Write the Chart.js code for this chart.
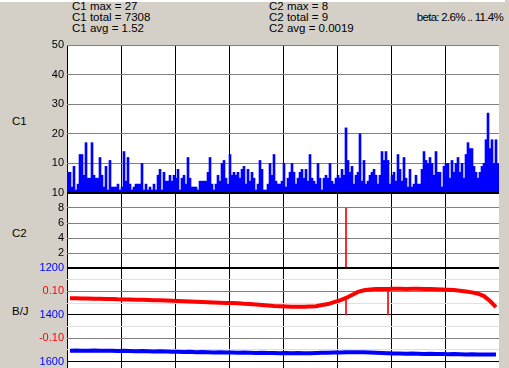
<!DOCTYPE html>
<html>
<head>
<meta charset="utf-8">
<script src="https://cdn.jsdelivr.net/npm/chart.js@4.4.1/dist/chart.umd.min.js"></script>
<style>
body { margin: 0; width: 509px; height: 368px; overflow: hidden; background: #d4d0c8; position: relative; font-family: "Liberation Sans", Arial, sans-serif; }
canvas { position: absolute; left: 0; }
.txt { position: absolute; font-size: 11.5px; line-height: 12px; color: #000; white-space: nowrap; }
</style>
</head>
<body>
<div style="position:absolute;left:0;top:0;width:505px;height:2px;background:#fff"></div>
<div class="txt" style="left:72px;top:0px">C1 max = 27</div>
<div class="txt" style="left:72px;top:11px">C1 total = 7308</div>
<div class="txt" style="left:72px;top:22px">C1 avg = 1.52</div>
<div class="txt" style="left:269px;top:0px">C2 max = 8</div>
<div class="txt" style="left:269px;top:11px">C2 total = 9</div>
<div class="txt" style="left:269px;top:22px">C2 avg = 0.0019</div>
<div class="txt" style="right:6px;top:11px;letter-spacing:-0.7px">beta: 2.6% .. 11.4%</div>
<div class="txt" style="left:12px;top:115px">C1</div>
<div class="txt" style="left:12px;top:227px">C2</div>
<div class="txt" style="left:12px;top:305px">B/J</div>

<canvas id="graficoC1" width="509" height="160" style="top:36px"></canvas>
<canvas id="graficoC2" width="509" height="85" style="top:186px"></canvas>
<canvas id="graficoBJ" width="509" height="110" style="top:261px"></canvas>

<script>
// C1: one value per bin (216 bins, 27 per grid division)
const c1Values = [
    7, 7, 2, 9, 1, 3, 13, 13, 6, 17, 5, 5, 17, 6, 5, 5, 12, 6, 2, 9, 1, 11, 2, 2, 2, 3, 1,
    2, 14, 4, 12, 3, 1, 2, 3, 3, 3, 10, 1, 3, 1, 2, 1, 3, 1, 6, 8, 1, 7, 4, 4, 6, 4, 6,
    5, 8, 1, 5, 6, 3, 12, 5, 2, 2, 2, 1, 4, 4, 4, 4, 7, 12, 3, 1, 3, 6, 4, 10, 11, 5, 3,
    13, 6, 7, 6, 7, 5, 8, 9, 3, 8, 4, 7, 5, 1, 3, 11, 8, 1, 1, 3, 10, 6, 13, 4, 3, 3, 4,
    10, 2, 5, 7, 10, 7, 3, 5, 7, 8, 5, 8, 4, 13, 5, 4, 3, 10, 5, 1, 5, 6, 5, 10, 4, 3, 5,
    6, 5, 8, 6, 22, 11, 7, 9, 3, 6, 7, 20, 4, 11, 3, 4, 6, 7, 8, 6, 3, 6, 14, 11, 14, 11, 3,
    6, 7, 4, 13, 8, 4, 12, 5, 2, 8, 2, 3, 6, 3, 3, 8, 14, 11, 10, 12, 10, 6, 14, 7, 7, 2, 9,
    10, 10, 5, 11, 7, 10, 12, 7, 10, 5, 13, 17, 15, 15, 9, 7, 5, 7, 9, 10, 18, 27, 15, 18, 10, 18, 10
];

// C2: only non-empty bins
const c2Bins = [139];
const c2Values = [8];

// B/J: 72 samples, one every 3 bins
const razaoValues = [
    0.071, 0.071, 0.070, 0.070, 0.069, 0.069, 0.068, 0.068, 0.066,
    0.065, 0.065, 0.064, 0.064, 0.063, 0.062, 0.062, 0.061, 0.060,
    0.059, 0.058, 0.057, 0.056, 0.055, 0.054, 0.053, 0.052, 0.051,
    0.050, 0.049, 0.047, 0.046, 0.044, 0.042, 0.040, 0.038, 0.037,
    0.036, 0.035, 0.035, 0.035, 0.036, 0.037, 0.042, 0.046, 0.054,
    0.062, 0.072, 0.085, 0.098, 0.105, 0.108, 0.110, 0.110, 0.110,
    0.111, 0.111, 0.110, 0.111, 0.111, 0.110, 0.110, 0.109, 0.108,
    0.107, 0.106, 0.103, 0.100, 0.096, 0.090, 0.080, 0.059, 0.033
];
const bjValues = [
    1553, 1552, 1554, 1553, 1552, 1554, 1553, 1553, 1555,
    1554, 1555, 1556, 1555, 1556, 1557, 1556, 1557, 1558,
    1558, 1559, 1558, 1560, 1559, 1560, 1561, 1560, 1561,
    1561, 1562, 1561, 1562, 1563, 1562, 1563, 1563, 1564,
    1563, 1564, 1563, 1564, 1564, 1563, 1562, 1562, 1561,
    1561, 1560, 1560, 1560, 1560, 1561, 1562, 1563, 1564,
    1565, 1565, 1566, 1565, 1566, 1567, 1566, 1567, 1567,
    1568, 1567, 1568, 1569, 1568, 1569, 1570, 1569, 1570
];
const marcaBins = [139, 160];
const marcaValues = [0.07, 0.10];

const bjTicks = [1200, 1250, 1300, 1350, 1400, 1450, 1500, 1550, 1600];
const bjLabels = { 1200: '1200', 1300: '0.10', 1400: '1400', 1500: '-0.10', 1600: '1600' };

const NBINS = 216;
const DIVISAO = 27;
const AZUL = '#0000ff';
const VERMELHO = '#ff0000';

Chart.defaults.font.family = '"Liberation Sans", Arial, sans-serif';
Chart.defaults.font.size = 11;
Chart.defaults.animation = false;

const fundoBranco = {
    id: 'fundoBranco',
    beforeDraw(chart) {
        const { ctx, chartArea: a } = chart;
        ctx.save();
        ctx.fillStyle = '#fff';
        ctx.fillRect(a.left, a.top, a.right - a.left, a.bottom - a.top);
        ctx.restore();
    }
};

// the scales must not reserve room for half-labels, the panels butt together
function zeraPad(s) {
    s.paddingTop = 0;
    s.paddingBottom = 0;
    s.paddingLeft = 0;
    s.paddingRight = 0;
}

function eixoX() {
    return {
        type: 'linear', min: 0, max: NBINS, offset: false,
        ticks: { display: false, stepSize: DIVISAO },
        grid: {
            offset: false, drawTicks: false, lineWidth: 1,
            color: ctx => ctx.tick.value === NBINS ? 'rgba(0,0,0,0)' : '#000'
        },
        border: { display: false },
        afterFit(s) { s.height = 0; zeraPad(s); }
    };
}

function opcoesBase(eixoY, padTop, padBottom) {
    eixoY.afterFit = s => { s.width = 67; zeraPad(s); };
    return {
        responsive: false,
        devicePixelRatio: 1,
        layout: { autoPadding: false, padding: { top: padTop, bottom: padBottom, left: 0, right: 10 } },
        plugins: { legend: { display: false }, tooltip: { enabled: false } },
        scales: { x: eixoX(), y: eixoY }
    };
}

// C1 panel
new Chart(document.getElementById('graficoC1'), {
    type: 'bar',
    data: {
        datasets: [{
            data: c1Values.map((v, i) => ({ x: i + 0.5, y: v })),
            backgroundColor: AZUL,
            borderWidth: 0,
            barPercentage: 1,
            categoryPercentage: 1
        }]
    },
    options: opcoesBase({
        min: 0, max: 50,
        ticks: { stepSize: 10, padding: 3, color: '#000', autoSkip: false, callback: v => v === 0 ? '' : String(v) },
        grid: {
            drawTicks: false,
            color: ctx => ctx.tick.value === 0 ? '#000' : '#808080',
            lineWidth: ctx => ctx.tick.value === 0 ? 2 : 1
        },
        border: { display: false }
    }, 9, 3),
    plugins: [fundoBranco]
});

// C2 panel
new Chart(document.getElementById('graficoC2'), {
    type: 'bar',
    data: {
        datasets: [{
            data: c2Bins.map((b, i) => ({ x: b + 0.5, y: c2Values[i] })),
            backgroundColor: VERMELHO,
            borderWidth: 0,
            barThickness: 1
        }]
    },
    options: opcoesBase({
        min: 0, max: 10,
        ticks: { stepSize: 2, padding: 3, color: '#000', autoSkip: false, callback: v => v === 0 ? '' : String(v) },
        grid: {
            drawTicks: false,
            color: ctx => (ctx.tick.value === 0 || ctx.tick.value === 10) ? '#000' : '#808080',
            lineWidth: ctx => (ctx.tick.value === 0 || ctx.tick.value === 10) ? 2 : 1
        },
        border: { display: false }
    }, 7, 3),
    plugins: [fundoBranco]
});

// B/J panel: blue scale runs downward (1200 on top), red scale upward
const opcoesBJ = opcoesBase({
    min: 1200, max: 1640, reverse: true,
    afterBuildTicks(s) { s.ticks = bjTicks.map(v => ({ value: v })); },
    ticks: {
        padding: 3, autoSkip: false,
        callback: v => bjLabels[v] || '',
        color: ctx => (ctx.tick.value === 1300 || ctx.tick.value === 1500) ? VERMELHO : AZUL
    },
    grid: {
        drawTicks: false,
        color: ctx => {
            const v = ctx.tick.value;
            if (v === 1200 || v === 1400 || v === 1600) return '#000';
            if (v === 1300 || v === 1500) return '#808080';
            return '#e0e0e0';
        },
        lineWidth: ctx => ctx.tick.value === 1200 ? 2 : 1
    },
    border: { display: false }
}, 7, 0);
opcoesBJ.scales.yr = { display: false, min: -0.24, max: 0.2 };

new Chart(document.getElementById('graficoBJ'), {
    type: 'line',
    data: {
        datasets: [
            {
                data: bjValues.map((v, i) => ({ x: i * 3 + 1.5, y: v })),
                borderColor: AZUL,
                borderWidth: 4,
                pointRadius: 0,
                yAxisID: 'y'
            },
            {
                data: razaoValues.map((v, i) => ({ x: i * 3 + 1.5, y: v })),
                borderColor: VERMELHO,
                borderWidth: 4,
                pointRadius: 0,
                yAxisID: 'yr'
            },
            {
                type: 'bar',
                data: marcaBins.map((b, i) => ({ x: b + 0.5, y: marcaValues[i] })),
                backgroundColor: VERMELHO,
                borderWidth: 0,
                barThickness: 1,
                yAxisID: 'yr'
            }
        ]
    },
    options: opcoesBJ,
    plugins: [fundoBranco]
});
</script>
</body>
</html>
